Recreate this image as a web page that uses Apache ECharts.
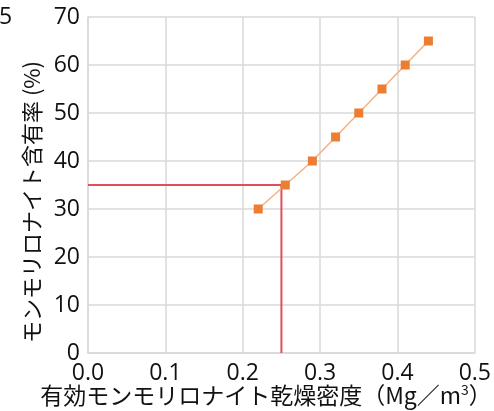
<!DOCTYPE html>
<html>
<head>
<meta charset="utf-8">
<script src="https://cdn.jsdelivr.net/npm/echarts@6/dist/echarts.min.js"></script>
<style>
  html, body { margin: 0; padding: 0; background: #fff; }
  #chart { width: 494px; height: 411px; }
</style>
</head>
<body>
<div id="chart"></div>
<script>
// Effective montmorillonite dry density (Mg/m3) vs. montmorillonite content (%)
const dryDensity = [0.22, 0.255, 0.29, 0.32, 0.35, 0.38, 0.41, 0.44];
const content = [30, 35, 40, 45, 50, 55, 60, 65];

// Reading guide: 35 % content -> 0.25 Mg/m3
const guideContent = 35;
const guideDensity = 0.25;

const xTicks = [0.0, 0.1, 0.2, 0.3, 0.4, 0.5];
const yTicks = [0, 10, 20, 30, 40, 50, 60, 70];

const seriesPoints = dryDensity.map((d, i) => [d, content[i]]);
const guidePoints = [[0, guideContent], [guideDensity, guideContent], [guideDensity, 0]];

const labelFont = '"Open Sans", "Noto Sans CJK JP", sans-serif';
const cjkFont = '"Noto Sans CJK JP", sans-serif';
const ink = '#111111';

const chart = echarts.init(document.getElementById('chart'), null, { renderer: 'canvas' });
chart.setOption({
  animation: false,
  backgroundColor: '#ffffff',
  grid: { left: 88, right: 14, top: 17, bottom: 58 },
  xAxis: {
    type: 'value',
    min: xTicks[0],
    max: xTicks[xTicks.length - 1],
    interval: 0.1,
    axisLine: { show: true, lineStyle: { color: '#d9d9d9', width: 1.5 } },
    axisTick: { show: false },
    splitLine: { show: true, lineStyle: { color: '#d9d9d9', width: 1.5 } },
    axisLabel: {
      margin: 9,
      color: ink,
      fontSize: 23,
      fontFamily: labelFont,
      formatter: v => v.toFixed(1)
    }
  },
  yAxis: {
    type: 'value',
    min: yTicks[0],
    max: yTicks[yTicks.length - 1],
    interval: 10,
    axisLine: { show: true, lineStyle: { color: '#d9d9d9', width: 1.5 } },
    axisTick: { show: false },
    splitLine: { show: true, lineStyle: { color: '#d9d9d9', width: 1.5 } },
    axisLabel: {
      margin: 8,
      color: ink,
      fontSize: 23,
      fontFamily: labelFont
    }
  },
  series: [
    {
      type: 'line',
      data: guidePoints,
      symbol: 'none',
      lineStyle: { color: '#e0505c', width: 2 },
      z: 3
    },
    {
      type: 'line',
      data: seriesPoints,
      symbol: 'rect',
      symbolSize: 9,
      itemStyle: { color: '#ed7d31' },
      lineStyle: { color: '#f4b183', width: 1.5 },
      z: 4
    }
  ],
  graphic: [
    {
      type: 'text',
      left: -1,
      top: 6,
      style: { text: '5', fontSize: 23, fontFamily: labelFont, fill: ink }
    },
    {
      type: 'text',
      x: 32,
      y: 202,
      rotation: Math.PI / 2,
      style: {
        text: 'モンモリロナイト含有率 (%)',
        fontSize: 22,
        fontFamily: cjkFont,
        fill: ink,
        align: 'center',
        verticalAlign: 'middle'
      }
    },
    {
      type: 'text',
      x: 266,
      y: 395,
      style: {
        rich: {
          n: { fontSize: 23, fontFamily: cjkFont, fill: ink },
          s: { fontSize: 14, fontFamily: cjkFont, fill: ink, verticalAlign: 'top', padding: [0, 0, 11, 0] }
        },
        text: '{n|有効モンモリロナイト乾燥密度（Mg／m}{s|3}{n|）}',
        align: 'center',
        verticalAlign: 'middle'
      }
    }
  ]
});
</script>
</body>
</html>
